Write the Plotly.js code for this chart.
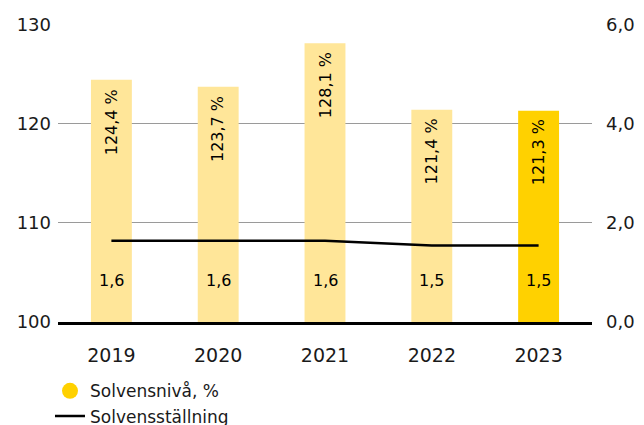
<!DOCTYPE html>
<html>
<head>
<meta charset="utf-8">
<script src="https://cdn.plot.ly/plotly-3.0.1.min.js"></script>
<style>html,body{margin:0;padding:0;background:#fff;}#chart{width:644px;height:425px;}</style>
</head>
<body>
<div id="chart"></div>
<script>
// ---- data ----
const years = ['2019', '2020', '2021', '2022', '2023'];
const solvensniva = [124.4, 123.7, 128.1, 121.4, 121.3];      // %, left axis
const solvensstallning = [1.64, 1.64, 1.64, 1.54, 1.54];       // right axis (line)
const solvensstallningLabels = ['1,6', '1,6', '1,6', '1,5', '1,5'];
const leftTicks = [100, 110, 120, 130];
const rightTicks = [0, 2, 4, 6];
const seriesNames = ['Solvensnivå, %', 'Solvensställning'];
const highlightYear = '2023';

// ---- style ----
const FONT = 'DejaVu Sans, Verdana, sans-serif';
const LIGHT = '#FFE699';
const DARK = '#FFD100';
const fmt1 = v => v.toFixed(1).replace('.', ',');

const barColors = years.map(y => y === highlightYear ? DARK : LIGHT);

const traces = [
  {
    type: 'bar', x: years, y: solvensniva, yaxis: 'y',
    marker: {color: barColors}, showlegend: false, hoverinfo: 'skip'
  },
  {
    type: 'scatter', mode: 'markers', x: [null], y: [null],
    name: seriesNames[0], marker: {symbol: 'circle', size: 17, color: DARK}
  },
  {
    type: 'scatter', mode: 'lines', x: years, y: solvensstallning, yaxis: 'y2',
    name: seriesNames[1], line: {color: '#000', width: 2.5}, hoverinfo: 'skip'
  }
];

const annotations = [];
years.forEach((yr, i) => {
  annotations.push({
    x: i, y: solvensniva[i], xref: 'x', yref: 'y',
    text: fmt1(solvensniva[i]) + ' %', textangle: -90,
    showarrow: false, yanchor: 'top', xanchor: 'center', yshift: -7,
    font: {family: FONT, size: 16, color: '#000'}
  });
  annotations.push({
    x: i, y: leftTicks[0], xref: 'x', yref: 'y',
    text: solvensstallningLabels[i],
    showarrow: false, yanchor: 'middle', xanchor: 'center', yshift: 42,
    font: {family: FONT, size: 16, color: '#000'}
  });
});

const layout = {
  width: 644, height: 425,
  margin: {l: 58, r: 52, t: 24, b: 103, autoexpand: false},
  paper_bgcolor: '#fff', plot_bgcolor: '#fff',
  separators: ', ',
  bargap: 0.617,
  hovermode: false,
  font: {family: FONT, color: '#1a1a1a'},
  xaxis: {
    type: 'category', range: [-0.5, 4.5], fixedrange: true,
    showgrid: false, zeroline: false,
    showline: true, linecolor: '#000', linewidth: 3,
    ticks: '', ticklabelstandoff: 14,
    tickfont: {family: FONT, size: 19, color: '#1a1a1a'}
  },
  yaxis: {
    range: [100, 130.03], tickvals: leftTicks, fixedrange: true,
    showgrid: true, gridcolor: '#9a9a9a', gridwidth: 1.3,
    zeroline: false, showline: false, ticks: '', ticklabelstandoff: 6,
    tickfont: {family: FONT, size: 18, color: '#1a1a1a'}
  },
  yaxis2: {
    overlaying: 'y', side: 'right', range: [0, 6.006], tickvals: rightTicks,
    tickformat: '.1f', fixedrange: true,
    showgrid: false, zeroline: false, showline: false, ticks: '',
    ticklabelstandoff: 13,
    tickfont: {family: FONT, size: 18, color: '#1a1a1a'}
  },
  legend: {
    orientation: 'v', x: -0.015, xanchor: 'left', y: -0.172, yanchor: 'top',
    font: {family: FONT, size: 17, color: '#1a1a1a'},
    bgcolor: 'rgba(0,0,0,0)', traceorder: 'normal', tracegroupgap: 0
  },
  annotations: annotations
};

Plotly.newPlot('chart', traces, layout, {displayModeBar: false, staticPlot: true});
</script>
</body>
</html>
